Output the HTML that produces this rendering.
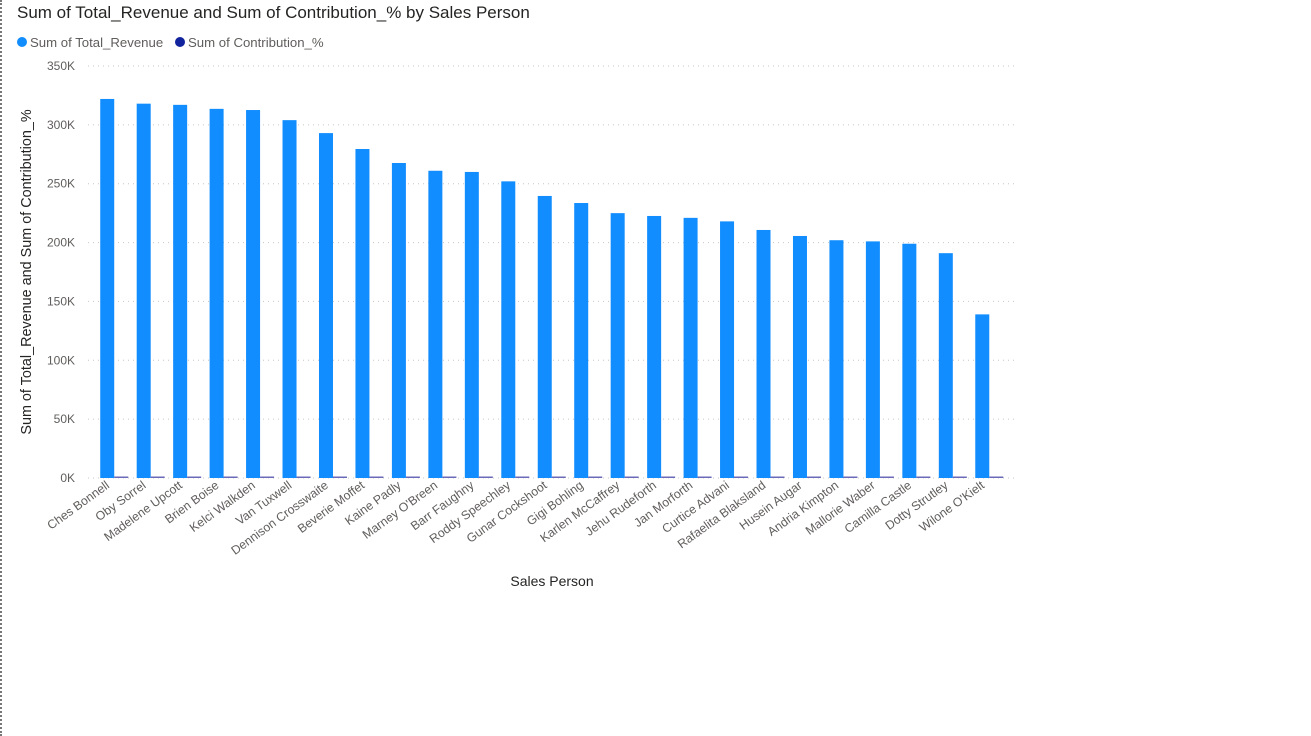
<!DOCTYPE html>
<html><head><meta charset="utf-8"><style>
html,body{margin:0;padding:0;background:#fff;}
body{width:1311px;height:736px;overflow:hidden;position:relative;font-family:"Liberation Sans",sans-serif;}
#frame{position:absolute;left:0;top:0;width:1311px;height:736px;border-left:2px dotted #777;box-sizing:border-box;}
svg text{font-family:"Liberation Sans",sans-serif;}
</style></head><body>
<div id="frame"></div>
<svg id="chart" width="1311" height="736" style="position:absolute;left:0;top:0">
<text x="17" y="18" font-size="17" fill="#252423">Sum of Total_Revenue and Sum of Contribution_% by Sales Person</text>
<g>
<g><circle cx="22" cy="42" r="5" fill="#118DFF"/><text x="30" y="47" font-size="13.2" fill="#605E5C">Sum of Total_Revenue</text></g>
<g><circle cx="180" cy="42" r="5" fill="#12239E"/><text x="188" y="47" font-size="13.2" fill="#605E5C">Sum of Contribution_%</text></g>
</g>
<text transform="translate(31,272) rotate(-90)" text-anchor="middle" font-size="14.4" fill="#252423">Sum of Total_Revenue and Sum of Contribution_%</text>
<text x="552" y="586" text-anchor="middle" font-size="14" fill="#252423">Sales Person</text>
<g id="grid"></g><g id="bars"></g><g id="xlabels"></g>
</svg>
<script>
const categories=["Ches Bonnell","Oby Sorrel","Madelene Upcott","Brien Boise","Kelci Walkden","Van Tuxwell","Dennison Crosswaite","Beverie Moffet","Kaine Padly","Marney O'Breen","Barr Faughny","Roddy Speechley","Gunar Cockshoot","Gigi Bohling","Karlen McCaffrey","Jehu Rudeforth","Jan Morforth","Curtice Advani","Rafaelita Blaksland","Husein Augar","Andria Kimpton","Mallorie Waber","Camilla Castle","Dotty Strutley","Wilone O'Kielt"];
const revenue=[322,318,317,313.6,312.6,304,293,279.5,267.6,261,260,252,239.6,233.6,225,222.6,221,218,210.7,205.6,202,201,199,191,139];
const contribution=[0.63,0.62,0.62,0.61,0.61,0.6,0.57,0.55,0.52,0.51,0.51,0.49,0.47,0.46,0.44,0.44,0.43,0.43,0.41,0.4,0.4,0.39,0.39,0.37,0.27];
const ticks=[0,50,100,150,200,250,300,350];
const NS="http://www.w3.org/2000/svg";
const y0=478,yTop=66,maxV=350;
function y(v){return y0-(v/maxV)*(y0-yTop);}
const x0=96,step=36.46;
function xc(i){return x0+step*i+step/2;}
function mk(tag,attrs,parent){const e=document.createElementNS(NS,tag);for(const k in attrs)e.setAttribute(k,attrs[k]);parent.appendChild(e);return e;}
const grid=document.getElementById('grid'),bars=document.getElementById('bars'),xl=document.getElementById('xlabels');
ticks.forEach(t=>{
 const l=mk('line',{x1:88,x2:1017,y1:y(t),y2:y(t),stroke:'#C8C6C4','stroke-dasharray':'1 4','stroke-width':1},grid);
 
 
 const tx=mk('text',{x:75,y:y(t)+4,'text-anchor':'end','font-size':'12',fill:'#605E5C'},grid);
 tx.textContent=t+'K';
 
 
});
categories.forEach((c,i)=>{
 const cx=xc(i);
 const r=mk('rect',{x:cx-14,y:y(revenue[i]),width:14,height:y0-y(revenue[i]),fill:'#118DFF'},bars);
 
 
 const hc=Math.max(1.5,(contribution[i]/maxV)*(y0-yTop));
 const r2=mk('rect',{x:cx,y:y0-hc,width:14,height:hc,fill:'#6A6AB8'},bars);
 
 
 const t=mk('text',{transform:'translate('+(cx-4)+',487) rotate(-36)','text-anchor':'end','font-size':'12.3',fill:'#605E5C'},xl);
 t.textContent=c;
 
 
});
</script>
</body></html>
